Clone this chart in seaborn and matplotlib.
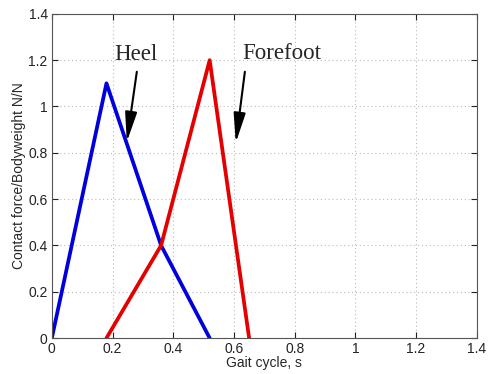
import matplotlib
matplotlib.use('Agg')
import matplotlib.pyplot as plt
import pandas as pd
import seaborn as sns

# Data
heel_x = [0.0, 0.18, 0.36, 0.52]
heel_y = [0.0, 1.10, 0.40, 0.0]
forefoot_x = [0.18, 0.36, 0.52, 0.65]
forefoot_y = [0.0, 0.40, 1.20, 0.0]

x_ticks = [0, 0.2, 0.4, 0.6, 0.8, 1, 1.2, 1.4]
y_ticks = [0, 0.2, 0.4, 0.6, 0.8, 1, 1.2, 1.4]
tick_labels = ['0', '0.2', '0.4', '0.6', '0.8', '1', '1.2', '1.4']

df_heel = pd.DataFrame({'time': heel_x, 'force': heel_y})
df_fore = pd.DataFrame({'time': forefoot_x, 'force': forefoot_y})

sns.set_style('ticks')
plt.rcParams['font.family'] = ['Liberation Sans', 'DejaVu Sans']

fig = plt.figure(figsize=(4.89, 3.74), dpi=100)
ax = fig.add_axes([0.106, 0.096, 0.869, 0.867])

sns.lineplot(data=df_heel, x='time', y='force', ax=ax, color='#0000dd',
             linewidth=2.7, sort=False, estimator=None)
sns.lineplot(data=df_fore, x='time', y='force', ax=ax, color='#e50000',
             linewidth=2.7, sort=False, estimator=None)

ax.set_xlim(0, 1.4)
ax.set_ylim(0, 1.4)
ax.set_xticks(x_ticks)
ax.set_xticklabels(tick_labels)
ax.set_yticks(y_ticks)
ax.set_yticklabels(tick_labels)
ax.grid(True, linestyle=(0, (1, 2.5)), color='#bbbbbb', linewidth=0.8)
ax.tick_params(direction='in', top=True, right=True, length=4, width=0.8,
               labelsize=10, colors='#222222', pad=3)
for sp in ax.spines.values():
    sp.set_color('#555555')
    sp.set_linewidth(0.8)

ax.set_xlabel('Gait cycle, s', fontsize=10, labelpad=0)
ax.set_ylabel('Contact force/Bodyweight N/N', fontsize=10, labelpad=2)

# Annotations
ax.text(0.277, 1.223, 'Heel', fontsize=16.5, family='Liberation Serif',
        ha='center', va='center')
ax.text(0.758, 1.23, 'Forefoot', fontsize=16.5, family='Liberation Serif',
        ha='center', va='center')
arrow = dict(arrowstyle='-|>,head_length=1.8,head_width=0.36', color='black',
             lw=1.5, shrinkA=0, shrinkB=0)
ax.annotate('', xy=(0.247, 0.847), xytext=(0.28, 1.15), arrowprops=arrow)
ax.annotate('', xy=(0.606, 0.843), xytext=(0.636, 1.15), arrowprops=arrow)

fig.savefig('out.png', dpi=100)
